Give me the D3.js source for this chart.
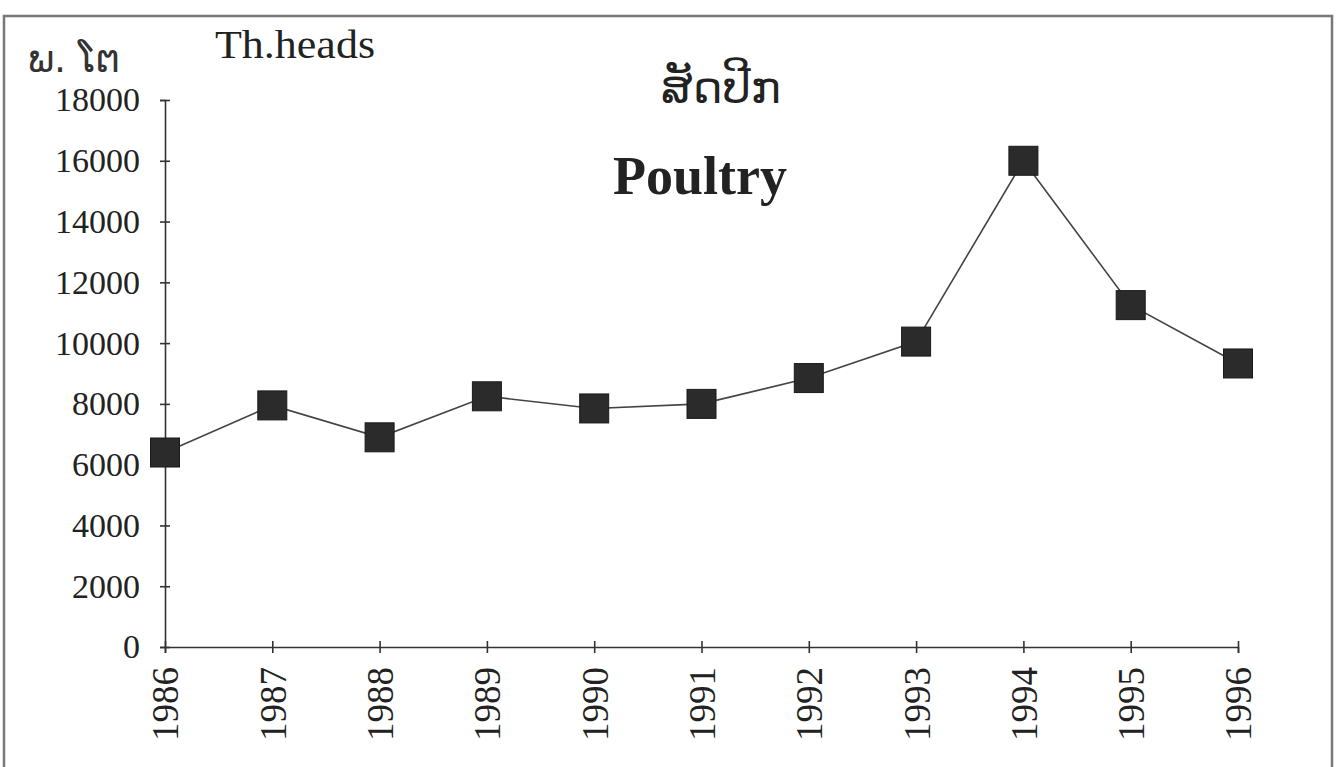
<!DOCTYPE html>
<meta charset="utf-8">
<style>
body { margin: 0; background: #fff; }
.axis path, .axis line { stroke: #333; stroke-width: 1.6px; }
.axis text { font-family: "Liberation Serif", serif; fill: #222; }
</style>
<svg width="1343" height="767"></svg>
<script src="https://d3js.org/d3.v7.min.js"></script>
<script>

var years = [1986, 1987, 1988, 1989, 1990, 1991, 1992, 1993, 1994, 1995, 1996];
var poultry = [6400, 7950, 6900, 8250, 7850, 8000, 8850, 10050, 16000, 11250, 9330];
var yTicks = [0, 2000, 4000, 6000, 8000, 10000, 12000, 14000, 16000, 18000];

var svg = d3.select("svg");

// scanned page frame
svg.append("rect")
    .attr("x", 4).attr("y", 16)
    .attr("width", 1328).attr("height", 800)
    .attr("fill", "none")
    .attr("stroke", "#777")
    .attr("stroke-width", 2.5);

var x = d3.scalePoint()
    .domain(years)
    .range([165, 1238]);

var y = d3.scaleLinear()
    .domain([0, 18000])
    .range([647, 100]);

var yAxis = svg.append("g")
    .attr("class", "axis")
    .attr("transform", "translate(165,0)")
    .call(d3.axisLeft(y).tickValues(yTicks).tickFormat(d3.format("d"))
      .tickSizeOuter(0).tickSize(5).tickPadding(20));
yAxis.selectAll(".tick line").attr("x1", 5);
yAxis.selectAll(".tick text").style("font-size", "34px");

var xAxis = svg.append("g")
    .attr("class", "axis")
    .attr("transform", "translate(0,647)")
    .call(d3.axisBottom(x).tickSizeOuter(0).tickSize(6));
xAxis.selectAll(".tick line").attr("y1", -6);
xAxis.selectAll(".tick text")
    .style("font-size", "37px")
    .attr("text-anchor", "end")
    .attr("transform", "rotate(-90)")
    .attr("x", -20)
    .attr("y", 0)
    .attr("dy", "0.35em");

var line = d3.line()
    .x(function(d, i) { return x(years[i]); })
    .y(function(d) { return y(d); });

svg.append("path")
    .datum(poultry)
    .attr("fill", "none")
    .attr("stroke", "#444")
    .attr("stroke-width", 1.6)
    .attr("d", line);

svg.selectAll(".marker")
    .data(poultry)
  .enter().append("rect")
    .attr("class", "marker")
    .attr("x", function(d, i) { return x(years[i]) - 14.5; })
    .attr("y", function(d) { return y(d) - 14.5; })
    .attr("width", 29)
    .attr("height", 29)
    .attr("fill", "#2b2b2b")
    .attr("stroke", "#1a1a1a")
    .attr("stroke-width", 1);

svg.append("text")
    .attr("x", 28).attr("y", 72)
    .style("font-family", "DejaVu Sans, sans-serif")
    .style("font-size", "38px")
    .attr("fill", "#333")
    .text("ພ. ໂຕ");

svg.append("text")
    .attr("x", 215).attr("y", 58)
    .attr("textLength", 160)
    .attr("lengthAdjust", "spacingAndGlyphs")
    .style("font-family", "Liberation Serif, serif")
    .style("font-size", "40px")
    .attr("fill", "#222")
    .text("Th.heads");

svg.append("text")
    .attr("x", 721).attr("y", 103)
    .attr("text-anchor", "middle")
    .style("font-family", "DejaVu Sans, sans-serif")
    .style("font-size", "45px")
    .attr("fill", "#222")
    .text("ສັດປີກ");

svg.append("text")
    .attr("x", 700).attr("y", 194)
    .attr("text-anchor", "middle")
    .style("font-family", "Liberation Serif, serif")
    .style("font-size", "54px")
    .style("font-weight", "bold")
    .attr("fill", "#222")
    .text("Poultry");

</script>
